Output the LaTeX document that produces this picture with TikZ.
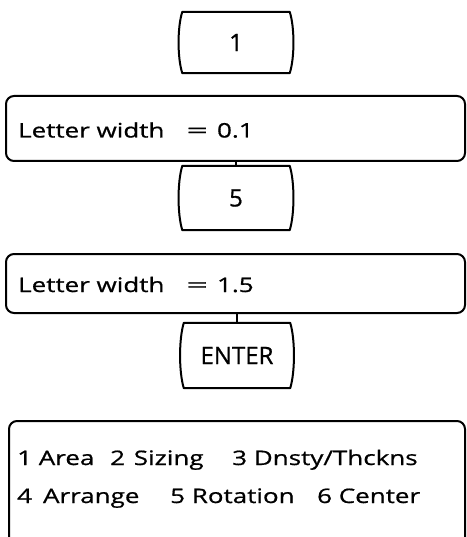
\documentclass[tikz,border=0pt]{standalone}
\usepackage{fontspec}
\setmainfont[FakeBold=0.8]{Open Sans}
\newfontfamily\boxfont[FakeStretch=1.3,FakeBold=0.8]{Open Sans}
\usetikzlibrary{calc}
\tikzset{
 ln/.style={line width=2pt},
 keytext/.style={font=\fontsize{24}{28}\selectfont, inner sep=0pt},
 panel/.style={ln, draw, rounded corners=8pt, anchor=north west},
 boxtext/.style={font=\boxfont\fontsize{20}{24}\selectfont, inner sep=0pt, anchor=base west},
}
\newcommand\wideeq{\scalebox{1.45}[1]{=}}
\newcommand\keycap[6]{%
 \node[keytext, minimum width=#4pt, minimum height=#5pt] (#1) at (#2,#3) {#6};
 \draw[ln, line join=round] ($(#1.north west)+(4.5,0)$) -- ($(#1.north east)+(-4.5,0)$)
   .. controls ($(#1.north east)+(0.5,-#5/4)$) and ($(#1.south east)+(0.5,#5/4)$) .. ($(#1.south east)+(-4.5,0)$)
   -- ($(#1.south west)+(4.5,0)$)
   .. controls ($(#1.south west)+(-0.5,#5/4)$) and ($(#1.north west)+(-0.5,-#5/4)$) .. cycle;
}
\begin{document}
\begin{tikzpicture}[x=1pt,y=1pt]
\path[use as bounding box, clip] (0,0) rectangle (466,-537);
\keycap{k1}{236}{-42.5}{116}{61}{1}
\node[panel, minimum width=459pt, minimum height=65pt] (b1) at (5,-95) {};
\node[boxtext] (t1) at (18,-137.5) {Letter width\hspace{22pt}\wideeq\hspace{9pt}0.1};
\keycap{k5}{236}{-198}{116}{64}{5}
\node[panel, minimum width=459pt, minimum height=59pt] (b2) at (5,-253) {};
\node[boxtext] (t2) at (18,-292) {Letter width\hspace{22pt}\wideeq\hspace{9pt}1.5};
\keycap{ke}{237}{-355.5}{115}{65}{ENTER}
\draw[ln] (k5.north) -- (k5.north |- b1.south);
\draw[ln] (ke.north) -- (ke.north |- b2.south);
\node[panel, minimum width=456pt, minimum height=140pt] (b3) at (8,-420) {};
\node[boxtext] (i1) at (17,-465) {1 Area};
\node[boxtext] (i2) at (110,-465) {2\hspace{2pt} Sizing};
\node[boxtext] (i3) at (232,-465) {3 Dnsty/Thckns};
\node[boxtext] (i4) at (17,-503) {4\hspace{11pt}Arrange};
\node[boxtext] (i5) at (170,-503) {5 Rotation};
\node[boxtext] (i6) at (317,-503) {6 Center};
\end{tikzpicture}
\end{document}
